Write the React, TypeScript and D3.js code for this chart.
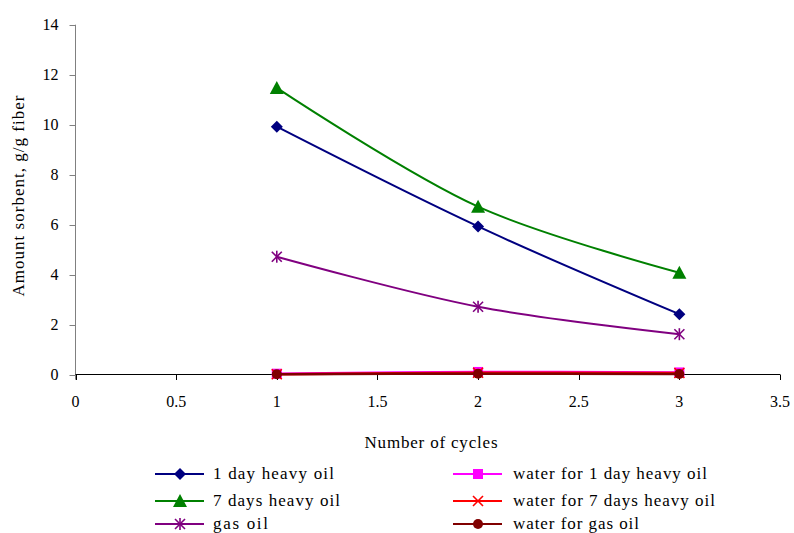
import React from "react";
import * as d3 from "d3";

const cycles = [1, 2, 3];
const dayHeavy = [9.92, 5.93, 2.42];
const sevenHeavy = [11.47, 6.72, 4.08];
const gasOil = [4.72, 2.72, 1.62];
const water1 = [0.04, 0.11, 0.09];
const water7 = [0.02, 0.08, 0.07];
const waterGas = [0.02, 0.04, 0.03];
const xTicks = [0, 0.5, 1, 1.5, 2, 2.5, 3, 3.5];
const yTicks = [0, 2, 4, 6, 8, 10, 12, 14];

const series = [
  { name: "1 day heavy oil", values: dayHeavy, color: "#000080", marker: "diamond", w: 121 },
  { name: "7 days heavy oil", values: sevenHeavy, color: "#008000", marker: "triangle", w: 127 },
  { name: "gas oil", values: gasOil, color: "#800080", marker: "star", w: 55 },
  { name: "water for 1 day heavy oil", values: water1, color: "#FF00FF", marker: "square", w: 194 },
  { name: "water for 7 days heavy oil", values: water7, color: "#FF0000", marker: "x", w: 202 },
  { name: "water for gas oil", values: waterGas, color: "#800000", marker: "circle", w: 126 },
];

const FONT = "Liberation Serif, Times New Roman, DejaVu Serif, serif";

function Marker({ type, x, y, color }: { type: string; x: number; y: number; color: string }) {
  const s = 6;
  switch (type) {
    case "diamond":
      return <path d={`M${x},${y - s} L${x + s},${y} L${x},${y + s} L${x - s},${y} Z`} fill={color} />;
    case "triangle":
      return <path d={`M${x},${y - 7} L${x + 7},${y + 6} L${x - 7},${y + 6} Z`} fill={color} />;
    case "square":
      return <rect x={x - 5} y={y - 5} width={10} height={10} fill={color} />;
    case "circle":
      return <circle cx={x} cy={y} r={5} fill={color} />;
    case "x":
      return (
        <g stroke={color} strokeWidth={1.6}>
          <line x1={x - 5} y1={y - 5} x2={x + 5} y2={y + 5} />
          <line x1={x - 5} y1={y + 5} x2={x + 5} y2={y - 5} />
        </g>
      );
    case "star":
      return (
        <g stroke={color} strokeWidth={1.6}>
          <line x1={x - 5} y1={y - 5} x2={x + 5} y2={y + 5} />
          <line x1={x - 5} y1={y + 5} x2={x + 5} y2={y - 5} />
          <line x1={x} y1={y - 6} x2={x} y2={y + 6} />
        </g>
      );
    default:
      return null;
  }
}

export default function App() {
  const W = 794;
  const H = 533;
  const x = d3.scaleLinear().domain([0, 3.5]).range([75.5, 780]);
  const y = d3.scaleLinear().domain([0, 14]).range([374.7, 24.7]);
  const line = d3
    .line<number>()
    .x((_, i) => x(cycles[i]))
    .y((d) => y(d))
    .curve(d3.curveCatmullRom.alpha(0.5));

  const legendRows = [474, 501, 524];
  const legendCols = [{ l0: 155, l1: 204, m: 180, t: 213 }, { l0: 453, l1: 502, m: 478, t: 513 }];

  return (
    <svg width={W} height={H} style={{ position: "absolute", left: 0, top: 0, background: "#fff" }}>
      {/* y axis */}
      <line x1={x(0)} x2={x(0)} y1={y(14)} y2={y(0) + 5} stroke="#808080" strokeWidth={1} />
      {yTicks.map((t) => (
        <g key={"y" + t}>
          <line x1={x(0) - 6} x2={x(0)} y1={Math.round(y(t)) + 0.5} y2={Math.round(y(t)) + 0.5} stroke="#808080" />
          <text x={x(0) - 17} y={y(t) + 5.5} textAnchor="end" fontFamily={FONT} fontSize={16} fill="#000">
            {t}
          </text>
        </g>
      ))}
      {/* x axis */}
      <line x1={x(0)} x2={x(3.5)} y1={374.5} y2={374.5} stroke="#000" strokeWidth={1} />
      {xTicks.map((t) => (
        <g key={"x" + t}>
          <line x1={Math.round(x(t)) + 0.5} x2={Math.round(x(t)) + 0.5} y1={374.5} y2={380} stroke="#000" />
          <text x={x(t)} y={407} textAnchor="middle" fontFamily={FONT} fontSize={16} fill="#000">
            {t}
          </text>
        </g>
      ))}
      <text
        transform={`translate(24, ${196}) rotate(-90)`}
        textAnchor="middle"
        fontFamily={FONT}
        fontSize={17}
        textLength={201}
        lengthAdjust="spacing"
        fill="#000"
      >
        Amount sorbent, g/g fiber
      </text>
      <text x={431} y={448} textAnchor="middle" fontFamily={FONT} fontSize={17} textLength={133} lengthAdjust="spacing" fill="#000">
        Number of cycles
      </text>
      {/* series */}
      {series.map((s, si) => (
        <g key={s.name}>
          <path d={line(s.values) || ""} fill="none" stroke={s.color} strokeWidth={si >= 3 ? 2.5 : 2} />
          {s.values.map((v, i) => (
            <Marker key={i} type={s.marker} x={x(cycles[i])} y={y(v)} color={s.color} />
          ))}
        </g>
      ))}
      {/* legend */}
      {series.map((s, i) => {
        const col = legendCols[Math.floor(i / 3)];
        const ry = legendRows[i % 3];
        return (
          <g key={"lg" + i}>
            <line x1={col.l0} x2={col.l1} y1={ry} y2={ry} stroke={s.color} strokeWidth={2} />
            <Marker type={s.marker} x={col.m} y={ry} color={s.color} />
            <text x={col.t} y={ry + 5} fontFamily={FONT} fontSize={17} fill="#000" textLength={s.w} lengthAdjust="spacing">
              {s.name}
            </text>
          </g>
        );
      })}
    </svg>
  );
}
